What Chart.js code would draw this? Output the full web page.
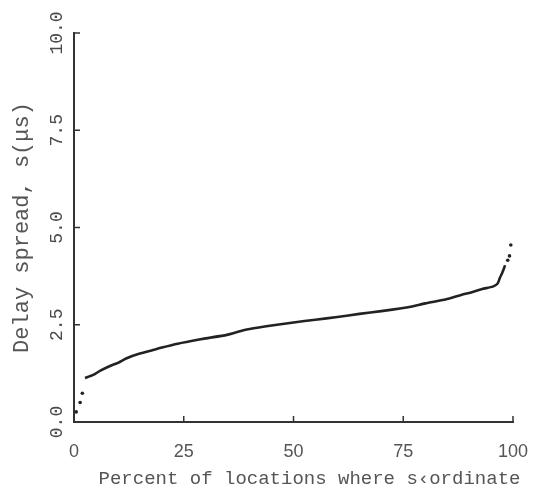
<!DOCTYPE html>
<html>
<head>
<meta charset="UTF-8">
<title>Delay spread</title>
<script src="https://cdn.jsdelivr.net/npm/chart.js@4.4.1/dist/chart.umd.min.js"></script>
<style>
  html, body { margin: 0; padding: 0; background: #fff; }
  #wrap { width: 539px; height: 492px; }
</style>
</head>
<body>
<div id="wrap"><canvas id="myChart" width="539" height="492"></canvas></div>
<script>
// curve, percent of locations vs delay spread (us)
const pctX  = [2.5, 4.4, 6, 8.2, 10, 12, 15, 19.6, 23, 27, 30, 34.8, 38, 40, 45, 50, 55, 60, 65, 70, 75, 77, 80, 85, 88, 91, 93, 95.4, 96.5, 97, 97.6, 98.2];
const delay = [1.13, 1.21, 1.32, 1.44, 1.52, 1.64, 1.76, 1.9, 2.0, 2.09, 2.15, 2.24, 2.34, 2.39, 2.48, 2.56, 2.63, 2.7, 2.78, 2.85, 2.93, 2.97, 3.05, 3.16, 3.26, 3.35, 3.42, 3.48, 3.56, 3.7, 3.85, 4.03];
// isolated dots at both ends
const dotX = [0.5, 1.4, 1.9, 98.8, 99.2, 99.5];
const dotY = [0.26, 0.5, 0.74, 4.16, 4.27, 4.55];
const xTicks = [0, 25, 50, 75, 100];
const yTicks = [0, 2.5, 5, 7.5, 10];
const xTitle = 'Percent of locations where s‹ordinate';

const ink = '#333';
const mono = 'Liberation Mono';

const curve = pctX.map((x, i) => ({ x: x, y: delay[i] }));
const dots = dotX.map((x, i) => ({ x: x, y: dotY[i] }));

// short tick marks pointing into the plot, and the x title
const axisExtras = {
    id: 'axisExtras',
    afterDraw(chart) {
        const ctx = chart.ctx;
        const xs = chart.scales.x, ys = chart.scales.y;
        const area = chart.chartArea;
        ctx.save();
        ctx.strokeStyle = ink;
        ctx.lineWidth = 1.5;
        ctx.beginPath();
        xTicks.forEach(v => {
            const px = xs.getPixelForValue(v);
            ctx.moveTo(px, area.bottom);
            ctx.lineTo(px, area.bottom - 6);
        });
        yTicks.forEach(v => {
            const py = ys.getPixelForValue(v);
            ctx.moveTo(area.left, py);
            ctx.lineTo(area.left + 6, py);
        });
        ctx.stroke();
        ctx.fillStyle = '#555';
        ctx.font = '19px "' + mono + '"';
        ctx.textAlign = 'center';
        ctx.textBaseline = 'middle';
        ctx.fillText(xTitle, (area.left + area.right) / 2 + 16, area.bottom + 57);
        ctx.restore();
    }
};

new Chart(document.getElementById('myChart'), {
    type: 'scatter',
    data: {
        datasets: [{
            data: curve,
            showLine: true,
            borderColor: '#222',
            borderWidth: 2.6,
            pointRadius: 0,
            tension: 0.2
        }, {
            data: dots,
            pointRadius: 1.8,
            pointBackgroundColor: '#222',
            pointBorderWidth: 0
        }]
    },
    options: {
        responsive: false,
        animation: false,
        layout: { padding: { top: 33, right: 26, left: 0, bottom: 0 } },
        plugins: { legend: { display: false }, tooltip: { enabled: false } },
        scales: {
            x: {
                type: 'linear', min: 0, max: 100,
                afterBuildTicks: s => { s.ticks = xTicks.map(v => ({ value: v })); },
                afterFit: s => { s.height = 70; s.paddingLeft = 0; s.paddingRight = 0; },
                grid: { display: false, tickLength: -6 },
                border: { color: ink, width: 2 },
                ticks: { color: '#555', padding: 25, font: { family: 'Liberation Sans', size: 18 } }
            },
            y: {
                type: 'linear', min: 0, max: 10,
                afterBuildTicks: s => { s.ticks = yTicks.map(v => ({ value: v })); },
                afterFit: s => { s.width = 74; s.paddingTop = 0; s.paddingBottom = 0; },
                grid: { display: false, tickLength: -6 },
                border: { color: ink, width: 2 },
                ticks: {
                    color: '#4a4a4a', padding: 1, minRotation: 90, maxRotation: 90, crossAlign: 'center',
                    font: { family: mono, size: 18 },
                    callback: v => v.toFixed(1)
                },
                title: {
                    display: true,
                    text: 'Delay spread, s(μs)',
                    color: '#555', font: { family: mono, size: 22 },
                    padding: { top: 9, bottom: 0 }
                }
            }
        }
    },
    plugins: [axisExtras]
});
</script>
</body>
</html>
